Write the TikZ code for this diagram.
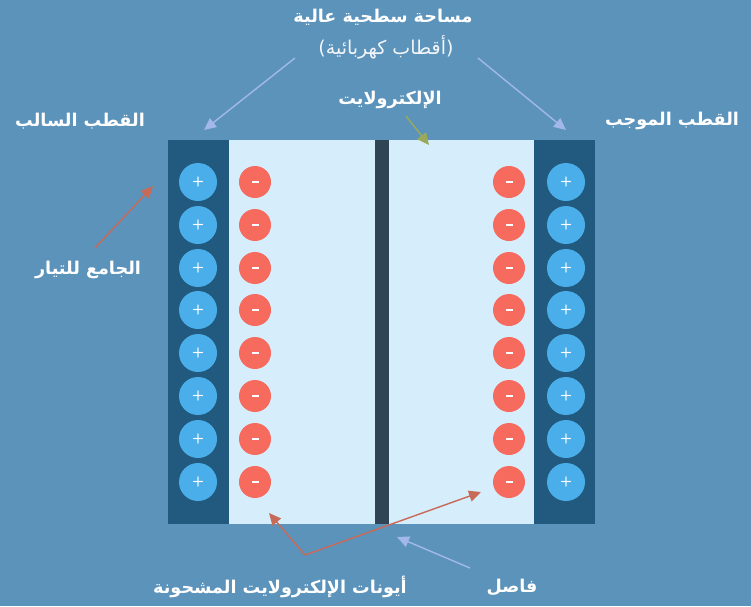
\documentclass[tikz,border=0pt]{standalone}
\usepackage{fontspec}
\newfontfamily\arabicfont[Script=Arabic]{DejaVu Sans}
\newfontfamily\arabicbold[Script=Arabic]{DejaVu Sans Bold}
\TeXXeTstate=1
\usetikzlibrary{arrows.meta}
\definecolor{bg}{HTML}{5C93BB}
\definecolor{elec}{HTML}{215A7E}
\definecolor{elyt}{HTML}{D6EDFC}
\definecolor{pos}{HTML}{4AAEEA}
\definecolor{neg}{HTML}{F66B5E}
\definecolor{sep}{HTML}{2F4556}
\definecolor{lav}{HTML}{A3B8EA}
\definecolor{olive}{HTML}{9AAA5A}
\definecolor{rust}{HTML}{C86A58}
\tikzset{
  lbl/.style={text=white, font=\arabicbold\fontsize{17.6}{21}\selectfont, inner sep=0pt},
  sublbl/.style={text=white!92!bg, font=\arabicfont\fontsize{19}{22}\selectfont, inner sep=0pt},
  posc/.style={circle, fill=pos, minimum size=38pt, inner sep=0pt, text=white, font=\sffamily\bfseries\fontsize{14}{14}\selectfont},
  negc/.style={circle, fill=neg, minimum size=32pt, inner sep=0pt, text=white},
  arr/.style={line width=1.4pt, -{Triangle[length=12pt,width=11pt]}},
}
\begin{document}
\begin{tikzpicture}[x=1pt,y=-1pt]
\fill[bg] (0,0) rectangle (751,606);
\useasboundingbox (0,0) rectangle (751,606);
% cell
\fill[elec] (168,140) rectangle (229,524);
\fill[elec] (534,140) rectangle (595,524);
\fill[elyt] (229,140) rectangle (534,524);
\fill[sep] (375,140) rectangle (389,524);
\coordinate (collector) at (153,186);
\coordinate (sepc) at (397,537);
\foreach \i [count=\k] in {182,225,268,310,353,396,439,482}{
  \node[posc] (pl\k) at (198,\i) {+};
  \node[posc] (pr\k) at (566,\i) {+};
  \node[negc] (nl\k) at (255,\i) {\rule{7pt}{2pt}};
  \node[negc] (nr\k) at (509,\i) {\rule{7pt}{2pt}};
}
% labels
\node[lbl] (high) at (383,17) {\beginR مساحة سطحية عالية\endR};
\node[sublbl] (elecs) at (386,47) {\beginR (أقطاب كهربائية)\endR};
\node[lbl] (elyte) at (390,100) {\beginR الإلكترولايت\endR};
\node[lbl] (neglbl) at (80,121) {\beginR القطب السالب\endR};
\node[lbl] (poslbl) at (672,121) {\beginR القطب الموجب\endR};
\node[lbl] (coll) at (88,270) {\beginR الجامع للتيار\endR};
\node[lbl] (ions) at (280,587) {\beginR أيونات الإلكترولايت المشحونة\endR};
\node[lbl] (sepl) at (512,587) {\beginR فاصل\endR};
% arrows
\coordinate (a1s) at (295,58); \coordinate (a1e) at (204,130);
\coordinate (a2s) at (478,58); \coordinate (a2e) at (566,130);
\coordinate (gs) at (406,116); \coordinate (ge) at (429,145);
\coordinate (cs) at (95,248);
\coordinate (ij) at (305,555);
\coordinate (il) at (269,513); \coordinate (ir) at (481,492);
\coordinate (ss) at (470,568);
\draw[arr, lav] (a1s) -- (a1e);
\draw[arr, lav] (a2s) -- (a2e);
\draw[arr, olive] (gs) -- (ge);
\draw[arr, rust] (cs) -- (collector);
\draw[arr, rust] (ij) -- (il);
\draw[arr, rust] (ij) -- (ir);
\draw[arr, lav] (ss) -- (sepc);
\end{tikzpicture}
\end{document}
